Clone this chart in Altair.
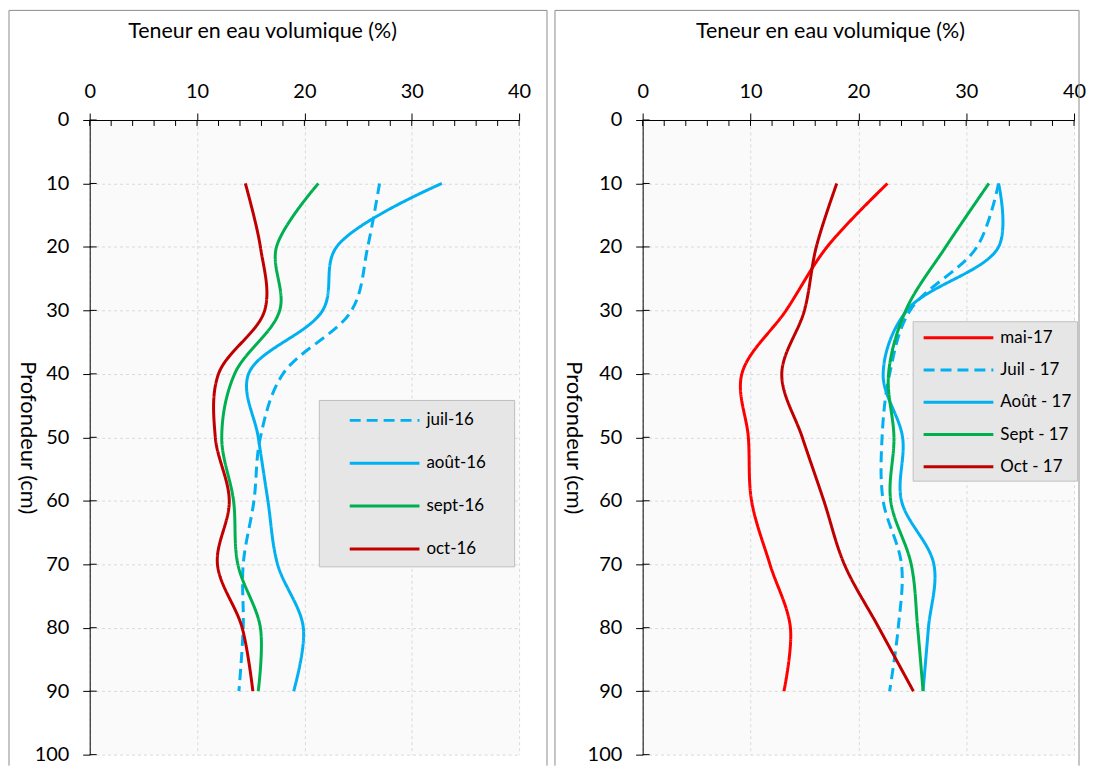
import altair as alt
import pandas as pd

# ---- data ----
depths = [10, 20, 30, 40, 50, 60, 70, 80, 90]

series16 = ["juil-16", "août-16", "sept-16", "oct-16"]
juil16 = [27.0, 25.9, 24.4, 18.0, 15.9, 15.3, 14.3, 14.3, 13.9]
aout16 = [32.8, 23.0, 21.7, 14.8, 15.7, 16.6, 17.5, 19.9, 19.0]
sept16 = [21.3, 17.4, 17.7, 13.5, 12.3, 13.4, 13.8, 15.9, 15.7]
oct16 = [14.5, 15.9, 16.3, 12.0, 11.7, 13.0, 11.9, 14.2, 15.2]

series17 = ["mai-17", "Juil - 17", "Août - 17", "Sept - 17", "Oct - 17"]
mai17 = [22.7, 17.1, 13.3, 9.2, 9.8, 10.1, 11.8, 13.7, 13.1]
juil17 = [33.0, 31.0, 24.8, 22.9, 22.2, 22.3, 24.0, 23.7, 22.9]
aout17 = [33.0, 33.0, 24.5, 22.3, 24.1, 24.0, 27.0, 26.5, 26.0]
sept17 = [32.1, 28.1, 24.4, 22.8, 23.3, 23.0, 24.9, 25.5, 26.0]
oct17 = [18.0, 16.1, 15.0, 12.9, 14.8, 16.8, 18.7, 21.9, 25.1]

colors16 = ["#00b0f0", "#00b0f0", "#00b050", "#c00000"]
colors17 = ["#ff0000", "#00b0f0", "#00b0f0", "#00b050", "#c00000"]
dashes16 = [[11, 6], [1, 0], [1, 0], [1, 0]]
dashes17 = [[1, 0], [11, 6], [1, 0], [1, 0], [1, 0]]

x_values = [0, 10, 20, 30, 40]
minor_x = list(range(0, 41, 2))
y_values = list(range(0, 101, 10))

FONT = "Lato"


def long_df(names, arrays):
    rows = []
    for n, arr in zip(names, arrays):
        for d, v in zip(depths, arr):
            rows.append({"serie": n, "depth": d, "val": v})
    return pd.DataFrame(rows)


df16 = long_df(series16, [juil16, aout16, sept16, oct16])
df17 = long_df(series17, [mai17, juil17, aout17, sept17, oct17])


def panel(df, names, colors, dashes, width, title_x, ytitle_x, leg):
    height = 637
    x_axis = alt.Axis(
        orient="top", values=x_values, title="Teneur en eau volumique (%)",
        titleX=title_x, titleY=-89, titleBaseline="middle", titleFontSize=21.5,
        titleFontWeight="normal", titleColor="#000", labelFontSize=20,
        labelColor="#000", labelPadding=12, labelFlush=False, tickSize=7,
        tickColor="#000", domainColor="#000", gridColor="#d9d9d9", gridDash=[3, 3],
    )
    y_axis = alt.Axis(
        values=y_values, title="Profondeur (cm)", titleX=ytitle_x, titleAngle=90,
        titleBaseline="middle", titleFontSize=22, titleFontWeight="normal",
        titleColor="#000", labelFontSize=20, labelColor="#000", labelFlush=False,
        labelPadding=14, tickSize=7, tickColor="#000", domainColor="#000",
        gridColor="#d9d9d9", gridDash=[3, 3],
    )
    legend = alt.Legend(
        title=None, orient="none", legendX=leg["x"], legendY=leg["y"],
        fillColor="#e6e6e6", strokeColor="#bfbfbf", padding=leg["pad"],
        symbolType=leg["path"], symbolSize=400, symbolStrokeWidth=3,
        symbolOffset=leg["soff"], labelOffset=leg["loff"], labelFontSize=17,
        labelColor="#000", rowPadding=leg["rowpad"], labelFont=FONT,
    )
    lines = alt.Chart(df).mark_line(interpolate="catmull-rom", strokeWidth=3).encode(
        x=alt.X("val:Q", scale=alt.Scale(domain=[0, 40], nice=False), axis=x_axis),
        y=alt.Y("depth:Q", scale=alt.Scale(domain=[0, 100], reverse=True, nice=False), axis=y_axis),
        color=alt.Color("serie:N", scale=alt.Scale(domain=names, range=colors), legend=legend),
        strokeDash=alt.StrokeDash("serie:N", scale=alt.Scale(domain=names, range=dashes), legend=legend),
        order=alt.Order("depth:Q"),
    )
    xticks = alt.Chart(pd.DataFrame({"val": minor_x})).mark_rule(color="#000", strokeWidth=1).encode(
        x="val:Q", y=alt.value(0), y2=alt.value(6)
    )
    yticks = alt.Chart(pd.DataFrame({"depth": y_values})).mark_rule(color="#000", strokeWidth=1).encode(
        y="depth:Q", x=alt.value(0), x2=alt.value(7)
    )
    one = pd.DataFrame({"k": [0]})
    fl, fr = leg["frame_l"], leg["frame_r"]
    frame_left = alt.Chart(one).mark_rule(color="#8c8c8c").encode(
        x=alt.value(fl), y=alt.value(-110), y2=alt.value(648))
    frame_right = alt.Chart(one).mark_rule(color="#8c8c8c").encode(
        x=alt.value(fr), y=alt.value(-110), y2=alt.value(648))
    frame_top = alt.Chart(one).mark_rule(color="#8c8c8c").encode(
        x=alt.value(fl), x2=alt.value(fr), y=alt.value(-110))
    return alt.layer(frame_left, frame_right, frame_top, xticks, yticks, lines).properties(
        width=width, height=height)


left = panel(df16, series16, colors16, dashes16, 431, 173, -62,
             {"x": 230, "y": 281, "pad": 9, "path": "M-3.5,0H3.5M11.5,0",
              "soff": 45.5, "loff": 30.5, "rowpad": 23, "frame_l": -81, "frame_r": 459})
right = panel(df17, series17, colors17, dashes17, 433, 188, -69,
              {"x": 271, "y": 202, "pad": 5, "path": "M-3.5,0H3.5M10.5,0",
               "soff": 29.5, "loff": 30.5, "rowpad": 12.4, "frame_l": -88, "frame_r": 438})

chart = alt.hconcat(left, right, spacing=6).resolve_scale(
    color="independent", strokeDash="independent"
).resolve_legend(color="independent", strokeDash="independent").properties(
    padding=0, background="#ffffff"
).configure(font=FONT).configure_view(fill="#fafafa", stroke="transparent")

chart.save("out.html", embed_options={"renderer": "svg", "actions": False})
